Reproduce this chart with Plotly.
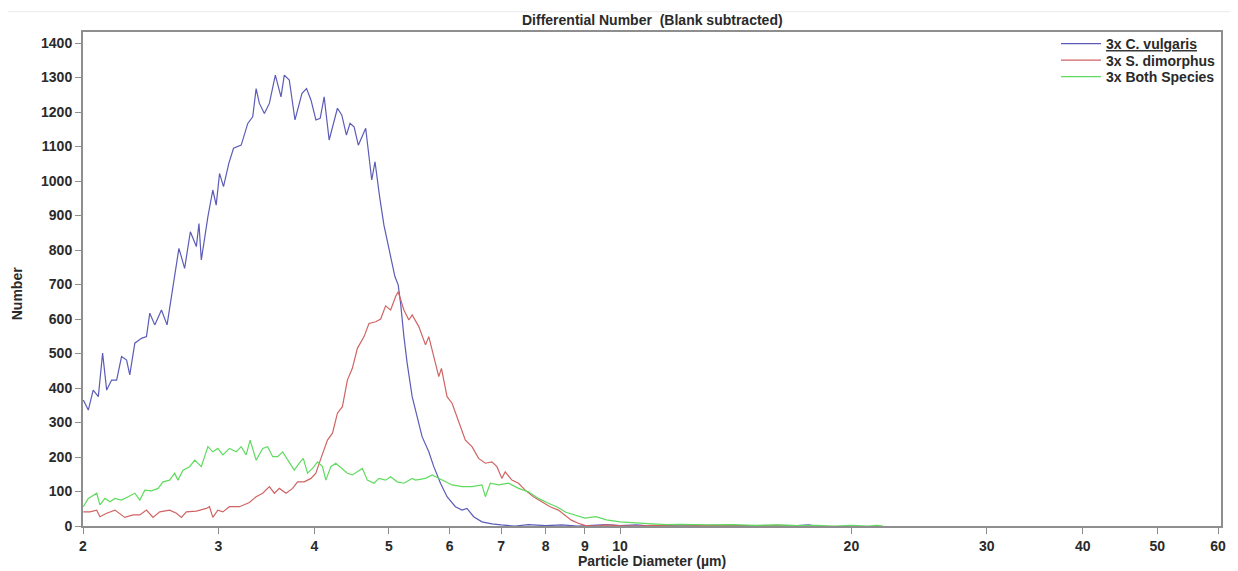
import plotly.graph_objects as go

# ---- Data ----
cv_diam = [2.002, 2.032, 2.062, 2.094, 2.121, 2.147, 2.179, 2.212, 2.245, 2.279, 2.301, 2.336,
           2.383, 2.419, 2.443, 2.480, 2.530, 2.573, 2.619, 2.666, 2.712, 2.759, 2.809, 2.831,
           2.851, 2.908, 2.951, 2.981, 3.011, 3.047, 3.096, 3.140, 3.213, 3.277, 3.326, 3.360,
           3.393, 3.444, 3.496, 3.559, 3.620, 3.656, 3.711, 3.775, 3.855, 3.908, 3.960, 4.019,
           4.071, 4.120, 4.182, 4.287, 4.344, 4.404, 4.452, 4.506, 4.564, 4.666, 4.751, 4.798,
           4.865, 4.928, 5.028, 5.093, 5.143, 5.180, 5.232, 5.283, 5.363, 5.444, 5.525, 5.637,
           5.722, 5.838, 5.954, 6.105, 6.227, 6.320, 6.448, 6.610, 6.811, 7.0, 7.3, 7.6, 8.0,
           8.4, 8.8, 9.2, 9.6, 10.0, 10.5, 11.0, 11.5, 12.0, 13.0, 14.0, 15.0, 16.0, 17.0, 17.6, 18.0]
cv_num = [365, 336, 394, 375, 501, 394, 423, 423, 491, 481, 438, 530,
          544, 549, 617, 583, 626, 583, 694, 805, 747, 853, 810, 877,
          771, 897, 974, 930, 1022, 984, 1051, 1095, 1104, 1167, 1186, 1268,
          1225, 1196, 1225, 1307, 1244, 1307, 1293, 1177, 1254, 1268, 1235, 1177,
          1182, 1244, 1119, 1211, 1191, 1133, 1167, 1157, 1104, 1153, 1003, 1056,
          954, 872, 781, 723, 699, 646, 549, 472, 375, 317, 259, 215,
          172, 124, 85, 56, 46, 51, 27, 12, 6, 3, 0, 4, 1,
          3, 0, 2, 4, 1, 3, 0, 2, 3, 1, 2, 0, 2, 1, 3, 0]

sd_diam = [2.002, 2.042, 2.084, 2.104, 2.147, 2.201, 2.267, 2.324, 2.371, 2.419, 2.467, 2.517,
           2.593, 2.646, 2.686, 2.726, 2.809, 2.894, 2.922, 2.951, 2.996, 3.041, 3.102, 3.196,
           3.293, 3.360, 3.427, 3.496, 3.549, 3.602, 3.675, 3.748, 3.804, 3.881, 3.960, 4.019,
           4.080, 4.161, 4.224, 4.287, 4.351, 4.417, 4.483, 4.551, 4.643, 4.712, 4.808, 4.880,
           4.953, 5.028, 5.104, 5.143, 5.232, 5.310, 5.363, 5.471, 5.582, 5.637, 5.722, 5.808,
           5.855, 5.954, 6.044, 6.166, 6.290, 6.416, 6.545, 6.678, 6.811, 6.913, 7.017, 7.088,
           7.230, 7.376, 7.525, 7.714, 7.907, 8.108, 8.312, 8.480, 8.641, 8.823, 9.0, 9.3,
           9.6, 10.0, 10.5, 11.0, 12.0, 13.0, 14.0, 15.0, 16.0, 17.0, 18.0]
sd_num = [41, 41, 46, 27, 37, 46, 25, 32, 32, 46, 25, 41,
          46, 37, 25, 41, 43, 51, 56, 25, 46, 41, 56, 56,
          68, 85, 95, 114, 95, 109, 95, 109, 128, 128, 138, 153,
          196, 249, 269, 327, 346, 423, 457, 515, 549, 587, 592, 600,
          638, 626, 665, 679, 626, 597, 612, 578, 525, 549, 491, 433,
          457, 375, 356, 302, 249, 230, 196, 182, 186, 172, 138, 157,
          133, 124, 104, 85, 70, 56, 46, 30, 17, 8, 2, 0,
          3, 1, 0, 2, 0, 2, 1, 0, 2, 0, 1]

both_diam = [2.002, 2.032, 2.084, 2.104, 2.136, 2.168, 2.201, 2.245, 2.290, 2.336, 2.371, 2.407,
             2.455, 2.505, 2.542, 2.593, 2.632, 2.658, 2.699, 2.753, 2.795, 2.851, 2.908, 2.951,
             2.996, 3.041, 3.102, 3.165, 3.213, 3.261, 3.300, 3.360, 3.427, 3.478, 3.531, 3.584,
             3.638, 3.711, 3.767, 3.824, 3.870, 3.920, 3.979, 4.038, 4.099, 4.141, 4.203, 4.266,
             4.351, 4.417, 4.483, 4.551, 4.619, 4.689, 4.783, 4.855, 4.953, 5.028, 5.128, 5.232,
             5.363, 5.418, 5.582, 5.693, 5.808, 5.926, 6.044, 6.227, 6.416, 6.610, 6.678, 6.778,
             6.948, 7.159, 7.376, 7.599, 7.830, 8.067, 8.270, 8.5, 8.8, 9.0, 9.3, 9.6,
             10.0, 10.5, 11.0, 11.5, 12.0, 13.0, 14.0, 15.0, 16.0, 17.0, 18.0, 19.0, 20.0, 21.0, 21.6, 22.0]
both_num = [56, 80, 95, 61, 80, 70, 80, 75, 85, 95, 75, 104,
            102, 109, 128, 133, 153, 133, 162, 172, 191, 172, 230, 215,
            225, 206, 225, 215, 230, 206, 249, 191, 225, 230, 201, 201,
            215, 186, 162, 182, 196, 153, 167, 186, 172, 133, 172, 182,
            167, 153, 148, 157, 167, 133, 124, 138, 133, 143, 128, 124,
            138, 133, 138, 148, 138, 128, 119, 114, 114, 119, 85, 124,
            119, 124, 109, 99, 80, 66, 56, 40, 30, 23, 27, 18,
            12, 8, 6, 4, 5, 3, 4, 2, 3, 1, 2, 0, 2, 0, 2, 0]

series_names = ["<u>3x C. vulgaris</u>", "3x S. dimorphus", "3x Both Species"]
series_colors = ["#5c5cb8", "#d06464", "#5fdb5f"]

x_tickvals = [2, 3, 4, 5, 6, 7, 8, 9, 10, 20, 30, 40, 50, 60]
x_ticktext = ["2", "3", "4", "5", "6", "7", "8", "9", "10", "20", "30", "40", "50", "60"]
y_tickvals = list(range(0, 1401, 100))

FONT = "Liberation Sans, Arial, Helvetica, sans-serif"
TXT = "#2a2a2a"
FS = 14

fig = go.Figure()
legend_ids = ["legend", "legend2", "legend3"]
for xs, ys, name, col, lg in [(cv_diam, cv_num, series_names[0], series_colors[0], legend_ids[0]),
                              (sd_diam, sd_num, series_names[1], series_colors[1], legend_ids[1]),
                              (both_diam, both_num, series_names[2], series_colors[2], legend_ids[2])]:
    fig.add_trace(go.Scatter(x=xs, y=ys, mode="lines", name=name, legend=lg,
                             line=dict(color=col, width=1.2)))

def legend_at(yc):
    return dict(x=0.855, y=yc, xanchor="left", yanchor="middle",
                bgcolor="rgba(0,0,0,0)", borderwidth=0,
                font=dict(family=FONT, size=FS, color=TXT, weight="bold"),
                itemwidth=40)

axis_col = "#8e8e8e"
tickfont = dict(family=FONT, size=FS, color=TXT, weight="bold")
fig.update_layout(
    width=1230, height=563,
    margin=dict(l=75, r=13, t=24, b=45),
    paper_bgcolor="white", plot_bgcolor="white",
    font=dict(family=FONT, size=FS, color=TXT),
    showlegend=True,
    legend=legend_at(0.9757),
    legend2=legend_at(0.9423),
    legend3=legend_at(0.9089),
    xaxis=dict(type="log", range=[0.30103, 1.78204],
               tickvals=x_tickvals, ticktext=x_ticktext,
               showgrid=False, zeroline=False,
               showline=True, linecolor=axis_col, linewidth=2, mirror=True,
               ticks="outside", ticklen=6, tickwidth=1, tickcolor=axis_col,
               tickfont=tickfont),
    yaxis=dict(range=[0, 1432], tickvals=y_tickvals,
               showgrid=False, zeroline=False,
               showline=True, linecolor=axis_col, linewidth=2, mirror=True,
               ticks="outside", ticklen=6, tickwidth=1, tickcolor=axis_col,
               tickfont=tickfont),
    annotations=[
        dict(text="Differential Number  (Blank subtracted)", xref="paper", yref="paper",
             x=0.5, y=1.0243, xanchor="center", yanchor="middle", showarrow=False,
             font=dict(family=FONT, size=FS, color=TXT, weight="bold")),
        dict(text="Particle Diameter (µm)", xref="paper", yref="paper",
             x=0.5, y=-0.0709, xanchor="center", yanchor="middle", showarrow=False,
             font=dict(family=FONT, size=FS, color=TXT, weight="bold")),
        dict(text="Number", xref="paper", yref="paper", textangle=-90,
             x=-0.0578, y=0.4696, xanchor="center", yanchor="middle", showarrow=False,
             font=dict(family=FONT, size=FS, color=TXT, weight="bold")),
    ],
    shapes=[dict(type="line", xref="paper", yref="paper", x0=-0.066, x1=1.0114,
                 y0=1.0411, y1=1.0411, line=dict(color="#ebebeb", width=1))],
)

fig.write_html("out.html")
